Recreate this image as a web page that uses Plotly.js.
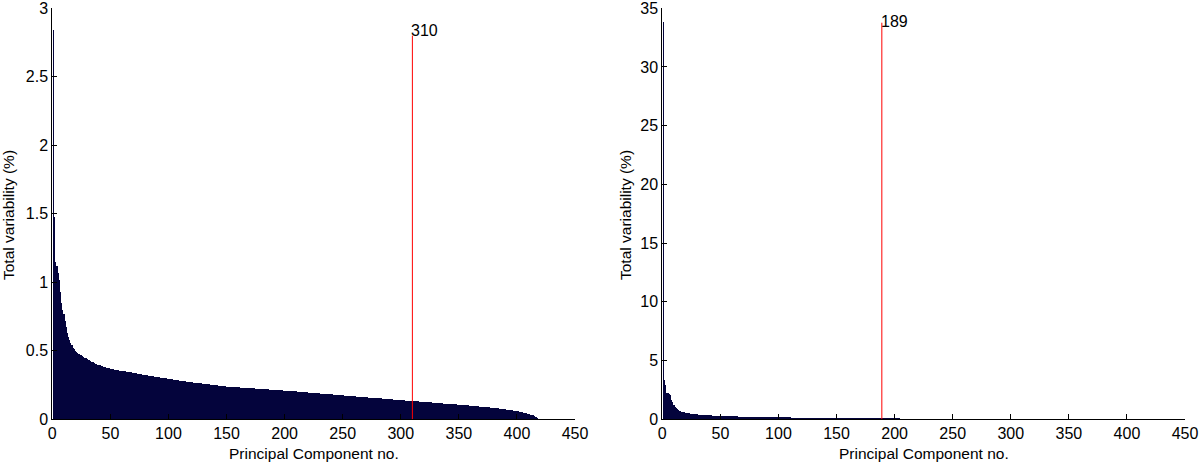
<!DOCTYPE html>
<html>
<head>
<meta charset="utf-8">
<script src="https://cdn.plot.ly/plotly-3.0.1.min.js"></script>
<style>
  html, body { margin: 0; padding: 0; background: #fff; }
  #chart { width: 1199px; height: 465px; }
</style>
</head>
<body>
<div id="chart"></div>
<script>
// variability explained by each principal component (%), left panel
var leftVar = [
  2.840, 1.480, 1.150, 1.120, 1.070, 1.020, 0.930, 0.850, 0.800, 0.770,
  0.720, 0.670, 0.630, 0.600, 0.580, 0.560, 0.540, 0.520, 0.510, 0.500,
  0.490, 0.485, 0.480, 0.472, 0.466, 0.460, 0.455, 0.450, 0.445, 0.440,
  0.435, 0.430, 0.425, 0.420, 0.415, 0.411, 0.407, 0.403, 0.399, 0.396,
  0.393, 0.390, 0.387, 0.384, 0.381, 0.379, 0.377, 0.375, 0.373, 0.370,
  0.368, 0.366, 0.364, 0.363, 0.361, 0.359, 0.358, 0.356, 0.355, 0.353,
  0.352, 0.350, 0.349, 0.347, 0.346, 0.344, 0.343, 0.342, 0.340, 0.339,
  0.337, 0.335, 0.334, 0.332, 0.331, 0.329, 0.328, 0.326, 0.325, 0.323,
  0.322, 0.320, 0.319, 0.317, 0.316, 0.314, 0.313, 0.311, 0.310, 0.308,
  0.307, 0.306, 0.304, 0.303, 0.302, 0.300, 0.299, 0.298, 0.297, 0.295,
  0.294, 0.293, 0.291, 0.290, 0.289, 0.288, 0.286, 0.285, 0.284, 0.283,
  0.281, 0.280, 0.279, 0.278, 0.277, 0.275, 0.274, 0.273, 0.272, 0.271,
  0.270, 0.268, 0.267, 0.266, 0.265, 0.264, 0.263, 0.262, 0.261, 0.259,
  0.258, 0.257, 0.256, 0.255, 0.254, 0.253, 0.252, 0.251, 0.250, 0.249,
  0.248, 0.247, 0.246, 0.245, 0.244, 0.243, 0.242, 0.241, 0.240, 0.239,
  0.239, 0.238, 0.238, 0.237, 0.236, 0.236, 0.235, 0.235, 0.234, 0.233,
  0.233, 0.232, 0.232, 0.231, 0.230, 0.230, 0.229, 0.229, 0.228, 0.227,
  0.227, 0.226, 0.226, 0.225, 0.224, 0.224, 0.223, 0.223, 0.222, 0.221,
  0.221, 0.220, 0.220, 0.219, 0.218, 0.218, 0.217, 0.217, 0.216, 0.215,
  0.215, 0.214, 0.214, 0.213, 0.212, 0.212, 0.211, 0.211, 0.210, 0.210,
  0.209, 0.208, 0.208, 0.207, 0.206, 0.206, 0.205, 0.204, 0.203, 0.203,
  0.202, 0.201, 0.201, 0.200, 0.199, 0.199, 0.198, 0.197, 0.196, 0.196,
  0.195, 0.194, 0.194, 0.193, 0.192, 0.192, 0.191, 0.190, 0.189, 0.189,
  0.188, 0.187, 0.187, 0.186, 0.185, 0.185, 0.184, 0.183, 0.182, 0.182,
  0.181, 0.180, 0.180, 0.179, 0.178, 0.178, 0.177, 0.176, 0.175, 0.175,
  0.174, 0.173, 0.173, 0.172, 0.171, 0.171, 0.170, 0.169, 0.168, 0.168,
  0.167, 0.166, 0.166, 0.165, 0.164, 0.164, 0.163, 0.162, 0.161, 0.161,
  0.160, 0.159, 0.159, 0.158, 0.157, 0.157, 0.156, 0.155, 0.154, 0.154,
  0.153, 0.152, 0.152, 0.151, 0.150, 0.150, 0.149, 0.148, 0.147, 0.147,
  0.146, 0.145, 0.145, 0.144, 0.143, 0.143, 0.142, 0.141, 0.140, 0.140,
  0.139, 0.138, 0.138, 0.137, 0.136, 0.136, 0.135, 0.135, 0.134, 0.133,
  0.133, 0.132, 0.131, 0.131, 0.130, 0.129, 0.129, 0.128, 0.127, 0.127,
  0.126, 0.125, 0.125, 0.124, 0.123, 0.123, 0.122, 0.121, 0.121, 0.120,
  0.119, 0.119, 0.118, 0.117, 0.117, 0.116, 0.115, 0.115, 0.114, 0.113,
  0.113, 0.112, 0.111, 0.111, 0.110, 0.109, 0.109, 0.108, 0.107, 0.107,
  0.106, 0.105, 0.104, 0.104, 0.103, 0.102, 0.101, 0.101, 0.100, 0.099,
  0.098, 0.098, 0.097, 0.096, 0.095, 0.095, 0.094, 0.093, 0.092, 0.091,
  0.091, 0.090, 0.089, 0.088, 0.087, 0.087, 0.086, 0.085, 0.084, 0.083,
  0.082, 0.081, 0.080, 0.079, 0.078, 0.077, 0.076, 0.075, 0.074, 0.073,
  0.071, 0.070, 0.069, 0.067, 0.066, 0.065, 0.063, 0.062, 0.060, 0.059,
  0.057, 0.055, 0.054, 0.052, 0.050, 0.048, 0.046, 0.044, 0.042, 0.040,
  0.037, 0.034, 0.031, 0.028, 0.024, 0.020, 0.016, 0.011
];

// right panel
var rightVar = [
  33.86, 3.350, 2.900, 2.250, 2.200, 2.150, 2.050, 1.650, 1.450, 1.250,
  1.050, 0.950, 0.850, 0.780, 0.740, 0.680, 0.640, 0.600, 0.580, 0.560,
  0.540, 0.520, 0.500, 0.480, 0.460, 0.450, 0.440, 0.430, 0.420, 0.410,
  0.400, 0.390, 0.380, 0.370, 0.360, 0.355, 0.350, 0.345, 0.340, 0.335,
  0.330, 0.325, 0.320, 0.315, 0.310, 0.305, 0.300, 0.295, 0.290, 0.285,
  0.282, 0.279, 0.276, 0.273, 0.270, 0.267, 0.264, 0.261, 0.258, 0.255,
  0.252, 0.249, 0.246, 0.243, 0.240, 0.237, 0.234, 0.231, 0.228, 0.226,
  0.224, 0.222, 0.220, 0.218, 0.216, 0.214, 0.212, 0.210, 0.208, 0.206,
  0.204, 0.202, 0.200, 0.198, 0.196, 0.194, 0.192, 0.190, 0.188, 0.186,
  0.184, 0.182, 0.180, 0.178, 0.176, 0.174, 0.172, 0.170, 0.168, 0.166,
  0.165, 0.164, 0.162, 0.161, 0.160, 0.158, 0.157, 0.156, 0.154, 0.153,
  0.152, 0.150, 0.149, 0.148, 0.146, 0.145, 0.144, 0.143, 0.141, 0.140,
  0.139, 0.138, 0.136, 0.135, 0.134, 0.133, 0.132, 0.130, 0.129, 0.128,
  0.127, 0.126, 0.125, 0.124, 0.123, 0.122, 0.121, 0.120, 0.119, 0.118,
  0.117, 0.116, 0.115, 0.114, 0.113, 0.112, 0.111, 0.110, 0.109, 0.108,
  0.107, 0.106, 0.105, 0.105, 0.104, 0.103, 0.102, 0.101, 0.100, 0.100,
  0.099, 0.098, 0.097, 0.096, 0.096, 0.095, 0.094, 0.093, 0.092, 0.092,
  0.091, 0.090, 0.089, 0.089, 0.088, 0.087, 0.086, 0.086, 0.085, 0.084,
  0.083, 0.083, 0.082, 0.081, 0.080, 0.080, 0.079, 0.078, 0.078, 0.077,
  0.076, 0.076, 0.075, 0.074, 0.074, 0.073, 0.072, 0.072, 0.071, 0.070,
  0.070, 0.069, 0.068, 0.068, 0.067, 0.067, 0.066, 0.065, 0.065, 0.064,
  0.064, 0.063, 0.062, 0.062, 0.061, 0.061, 0.060, 0.059, 0.059, 0.058,
  0.058, 0.057, 0.057, 0.056, 0.055, 0.055, 0.054, 0.054, 0.053, 0.053,
  0.052, 0.052, 0.051, 0.051, 0.050, 0.050, 0.049, 0.049, 0.048, 0.048,
  0.047, 0.047, 0.046, 0.046, 0.045, 0.045, 0.044, 0.044, 0.043, 0.043,
  0.042, 0.042, 0.041, 0.041, 0.041, 0.040, 0.040, 0.039, 0.039, 0.038,
  0.038, 0.038, 0.037, 0.037, 0.036, 0.036, 0.036, 0.035, 0.035, 0.034,
  0.034, 0.034, 0.033, 0.033, 0.032, 0.032, 0.032, 0.031, 0.031, 0.031,
  0.030, 0.030, 0.030, 0.029, 0.029, 0.029, 0.028, 0.028, 0.028, 0.027,
  0.027, 0.027, 0.026, 0.026, 0.026, 0.025, 0.025, 0.025, 0.024, 0.024,
  0.024, 0.023, 0.023, 0.023, 0.022, 0.022, 0.022, 0.021, 0.021, 0.021,
  0.020, 0.020, 0.020, 0.020, 0.019, 0.019, 0.019, 0.018, 0.018, 0.018,
  0.018, 0.017, 0.017, 0.017, 0.017, 0.016, 0.016, 0.016, 0.016, 0.015,
  0.015, 0.015, 0.015, 0.014, 0.014, 0.014, 0.014, 0.014, 0.013, 0.013,
  0.013, 0.013, 0.013, 0.012, 0.012, 0.012, 0.012, 0.012, 0.011, 0.011,
  0.011, 0.011, 0.011, 0.011, 0.010, 0.010, 0.010, 0.010, 0.010, 0.010,
  0.009, 0.009, 0.009, 0.009, 0.009, 0.009, 0.009, 0.008, 0.008, 0.008,
  0.008, 0.008, 0.008, 0.008, 0.008, 0.007, 0.007, 0.007, 0.007, 0.007,
  0.007, 0.007, 0.007, 0.006, 0.006, 0.006, 0.006, 0.006, 0.006, 0.006,
  0.006, 0.005, 0.005, 0.005, 0.005, 0.005, 0.005, 0.005, 0.005, 0.004,
  0.004, 0.004, 0.004, 0.004, 0.004, 0.004, 0.003, 0.003, 0.003, 0.003,
  0.003, 0.003, 0.003, 0.002, 0.002, 0.002, 0.002, 0.001
];

// cut-off component and height of the red marker line
var cutLeft = 310, cutLeftTop = 2.80, peakLeft = 2.84;
var cutRight = 189, cutRightTop = 33.77, peakRight = 33.86;

var xTicks = [0, 50, 100, 150, 200, 250, 300, 350, 400, 450];
var xTitle = "Principal Component no.";
var yTitle = "Total variability (%)";

var compLeft = leftVar.map(function (v, i) { return i + 1; });
var compRight = rightVar.map(function (v, i) { return i + 1; });

var barColor = "#04043c";
var family = "Liberation Sans, Arial, sans-serif";
var font = { family: family, size: 15.5, color: "#000" };
var tickFont = { family: family, size: 16, color: "#000" };

var leftTrace = {
  x: compLeft, y: leftVar, type: "bar", xaxis: "x", yaxis: "y",
  marker: { color: barColor, line: { width: 0 } }, hoverinfo: "x+y"
};
var rightTrace = {
  x: compRight, y: rightVar, type: "bar", xaxis: "x2", yaxis: "y2",
  marker: { color: barColor, line: { width: 0 } }, hoverinfo: "x+y"
};

function xAxis(domain, anchor) {
  return {
    domain: domain, anchor: anchor, range: [0, 450], tickvals: xTicks,
    ticks: "inside", ticklen: 5, tickcolor: "#000", showline: true,
    linecolor: "#000", linewidth: 1, showgrid: false, zeroline: false,
    tickfont: tickFont, ticklabeloverflow: "allow", fixedrange: true
  };
}
function yAxis(domain, anchor, range, step) {
  return {
    domain: domain, anchor: anchor, range: range, dtick: step,
    ticks: "inside", ticklen: 5, tickcolor: "#000", showline: true,
    linecolor: "#000", linewidth: 1, showgrid: false, zeroline: false,
    tickfont: tickFont, ticklabeloverflow: "allow", fixedrange: true
  };
}

var yDom = [0.0983, 0.9822];
var layout = {
  width: 1199, height: 465,
  margin: { l: 0, r: 0, t: 0, b: 0 },
  paper_bgcolor: "#fff", plot_bgcolor: "#fff",
  showlegend: false, bargap: 0,
  font: font,
  xaxis: xAxis([0.04362, 0.47957], "y"),
  yaxis: yAxis(yDom, "x", [0, 3], 0.5),
  xaxis2: xAxis([0.55238, 0.98833], "y2"),
  yaxis2: yAxis(yDom, "x2", [0, 35], 5),
  shapes: [
    { type: "line", xref: "x", yref: "y", x0: cutLeft, x1: cutLeft, y0: 0, y1: cutLeftTop,
      line: { color: "#ff0000", width: 1 } },
    { type: "line", xref: "x2", yref: "y2", x0: cutRight, x1: cutRight, y0: 0, y1: cutRightTop,
      line: { color: "#ff0000", width: 1 } }
  ],
  annotations: [
    { xref: "x", yref: "y", x: cutLeft, y: peakLeft, text: String(cutLeft), showarrow: false,
      xanchor: "left", yanchor: "middle", xshift: -3, font: { family: family, size: 16, color: "#000" } },
    { xref: "x2", yref: "y2", x: cutRight, y: peakRight, text: String(cutRight), showarrow: false,
      xanchor: "left", yanchor: "middle", xshift: -3, font: { family: family, size: 16, color: "#000" } },
    { xref: "paper", yref: "paper", x: 313.7 / 1199, y: 1 - 453 / 465, text: xTitle, showarrow: false,
      xanchor: "center", yanchor: "middle", font: font },
    { xref: "paper", yref: "paper", x: 923.7 / 1199, y: 1 - 453 / 465, text: xTitle, showarrow: false,
      xanchor: "center", yanchor: "middle", font: font },
    { xref: "paper", yref: "paper", x: 8 / 1199, y: 1 - 215 / 465, text: yTitle, showarrow: false,
      textangle: -90, xanchor: "center", yanchor: "middle", font: font },
    { xref: "paper", yref: "paper", x: 625 / 1199, y: 1 - 215 / 465, text: yTitle, showarrow: false,
      textangle: -90, xanchor: "center", yanchor: "middle", font: font }
  ]
};

Plotly.newPlot("chart", [leftTrace, rightTrace], layout, { displayModeBar: false, staticPlot: true });
</script>
</body>
</html>
